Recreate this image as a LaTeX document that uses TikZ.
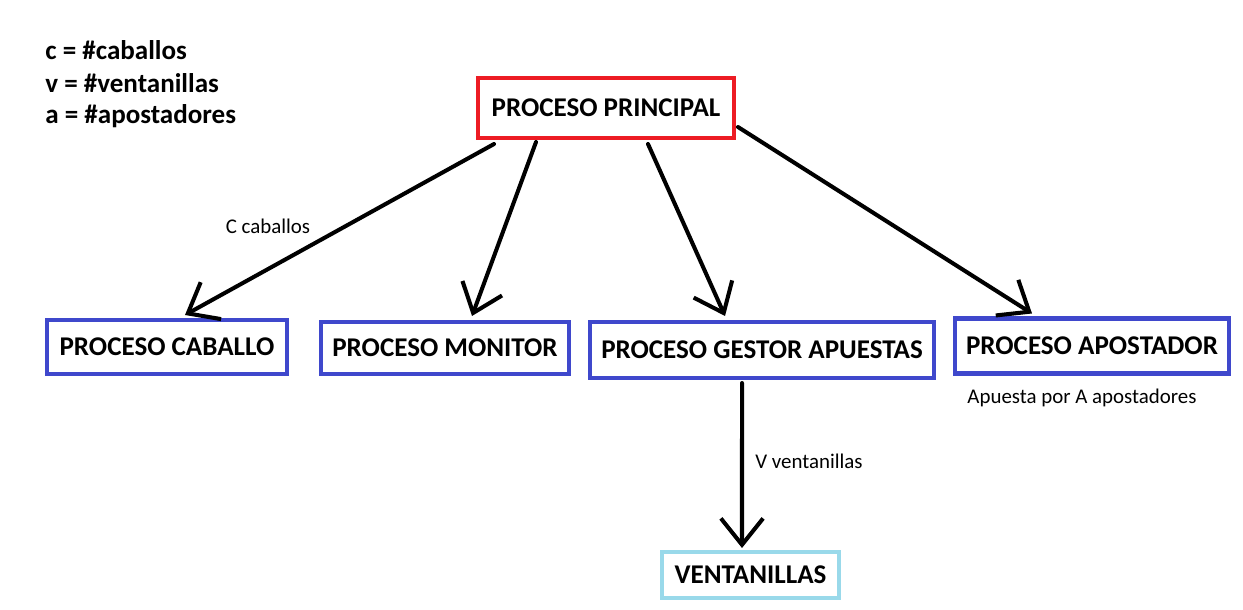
\documentclass[tikz,border=0pt]{standalone}
\usepackage{fontspec}
\setmainfont{Carlito}
\usetikzlibrary{arrows.meta, calc}
\usepackage{xcolor}
\definecolor{PaintRed}{HTML}{ED1C24}
\definecolor{PaintBlue}{HTML}{3F48CC}
\definecolor{PaintSky}{HTML}{99D9EA}

\begin{document}
\begin{tikzpicture}[x=0.02cm, y=-0.02cm,
    procbox/.style={draw, line width=2.3pt, fill=white, font=\fontsize{15.4}{18}\selectfont\bfseries, inner sep=0pt},
    flow/.style={line width=2.3pt, line cap=round, -{Straight Barb[length=15pt, width=24pt, line width=2.3pt]}},
    legend/.style={anchor=west, inner sep=0pt, font=\fontsize{15.4}{18}\selectfont\bfseries},
    note/.style={font=\fontsize{11.9}{14}\selectfont}]
                \useasboundingbox (0,0) rectangle (1243,609);

                % Legend
                \node[legend] (legc) at (45,50) {c = \#caballos};
                \node[legend] (legv) at (45,83) {v = \#ventanillas};
                \node[legend] (lega) at (45,116) {a = \#apostadores};

                % Processes
                \node[procbox, draw=PaintRed, minimum width=5.12cm, minimum height=1.2cm] (principal) at (606,108) {PROCESO PRINCIPAL};
                
                \node[procbox, draw=PaintBlue, minimum width=4.8cm, minimum height=1.08cm] (caballo) at (167,347) {PROCESO CABALLO};
                
                \node[procbox, draw=PaintBlue, minimum width=4.96cm, minimum height=1.04cm] (monitor) at (445,348) {PROCESO MONITOR};
                
                \node[procbox, draw=PaintBlue, minimum width=6.88cm, minimum height=1.12cm] (gestor) at (762,350) {PROCESO GESTOR APUESTAS};
                
                \node[procbox, draw=PaintBlue, minimum width=5.48cm, minimum height=1.1cm] (apostador) at (1092,346) {PROCESO APOSTADOR};
                
                \node[procbox, draw=PaintSky, minimum width=3.54cm, minimum height=0.92cm] (ventanillas) at (750.5,575) {VENTANILLAS};
                
                % Arrows
                \draw[flow] ($(principal.south west)+(18,4)$) -- ($(caballo.north west)+(140,-3)$);
                \draw[flow] ($(principal.south west)+(60,2)$) -- ($(monitor.north west)+(153,-4)$);
                \draw[flow] ($(principal.south west)+(172,4)$) -- ($(gestor.north west)+(137,-4)$);
                \draw[flow] ($(principal.south east)+(2,-13)$) -- ($(apostador.north west)+(79,-3)$);
                \draw[flow] ($(gestor.south west)+(154,3)$) -- ($(ventanillas.north west)+(82,-2)$);
                
                % Labels
                \node[note] (lcaballos) at (268,226) {C caballos};
                \node[note] (lventanillas) at (809,461) {V ventanillas};
                \node[note] (lapuesta) at (1082,398) {Apuesta por A apostadores};
\end{tikzpicture}
\end{document}
